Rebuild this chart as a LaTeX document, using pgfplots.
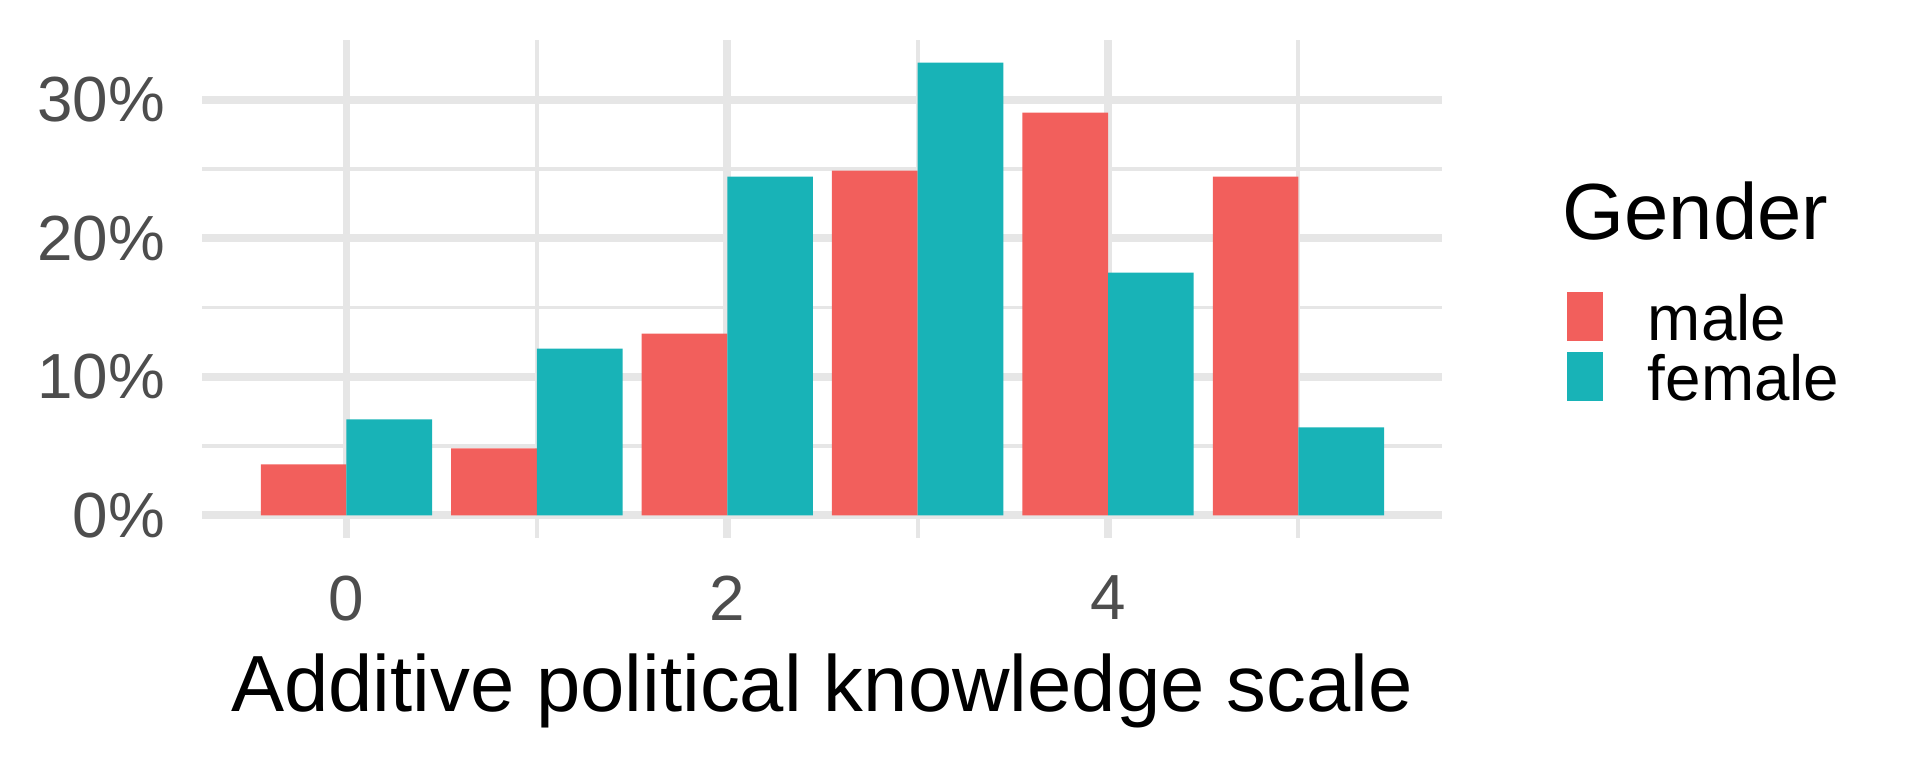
\documentclass[border=0pt]{standalone}
\usepackage{fontspec}
\setmainfont{Liberation Sans}
\usepackage{pgfplots}
\pgfplotsset{compat=1.18}

\definecolor{male}{RGB}{242,95,92}
\definecolor{female}{RGB}{24,179,183}
\definecolor{gridc}{RGB}{230,230,230}
\definecolor{tickc}{RGB}{77,77,77}

\pgfplotsset{
  keybox/.style={legend image code/.code={\fill (0cm,0cm) rectangle (0.375cm,0.51cm);}}
}

\begin{document}
\begin{tikzpicture}
\useasboundingbox (0,0) rectangle (20cm,8cm);
\begin{axis}[
  at={(2.104cm,2.396cm)}, anchor=south west,
  scale only axis, width=12.917cm, height=5.187cm,
  xmin=-0.759, xmax=5.754, ymin=-1.63, ymax=34.3,
  ybar, bar width=0.45,
  xtick={0,2,4}, minor xtick={1,3,5},
  ytick={0,10,20,30}, minor ytick={5,15,25},
  yticklabel={\pgfmathprintnumber{\tick}\%},
  /pgf/number format/assume math mode=true,
  grid=both,
  major grid style={gridc, line width=2.36pt},
  minor grid style={gridc, line width=1.18pt},
  axis line style={draw=none},
  major tick length=0pt, minor tick length=0pt,
  tick label style={font=\fontsize{18.9}{22}\selectfont, text=tickc, inner sep=0pt},
  yticklabel style={anchor=east, xshift=-0.38cm},
  xticklabel style={anchor=north, yshift=-0.385cm},
  xlabel={Additive political knowledge scale},
  xlabel style={font=\fontsize{23.6}{28}\selectfont, at={(axis description cs:0.5,0)},
    anchor=base, yshift=-1.809cm, inner sep=0pt},
  legend style={draw=none, fill=none, at={(1.1006,0.4945)}, anchor=north west,
    inner sep=0pt, outer sep=0pt, row sep=0.115cm, column sep=0pt,
    font=\fontsize{18.9}{22}\selectfont,
    nodes={inner sep=0pt, text height=0.51cm, text depth=0pt},
    cells={anchor=base west},
    /tikz/every odd column/.append style={column sep=0.47cm}},
]
\addplot[fill=male, draw=none, bar shift=-0.225, keybox] coordinates
  {(0,3.68) (1,4.83) (2,13.12) (3,24.88) (4,29.06) (5,24.45)};
\addplot[fill=female, draw=none, bar shift=0.225, keybox] coordinates
  {(0,6.92) (1,12.04) (2,24.45) (3,32.67) (4,17.52) (5,6.35)};
\legend{male, female}
\end{axis}
\node[anchor=base west, inner sep=0pt, font=\fontsize{23.6}{28}\selectfont] at (16.27cm,5.507cm) {Gender};
\end{tikzpicture}
\end{document}
